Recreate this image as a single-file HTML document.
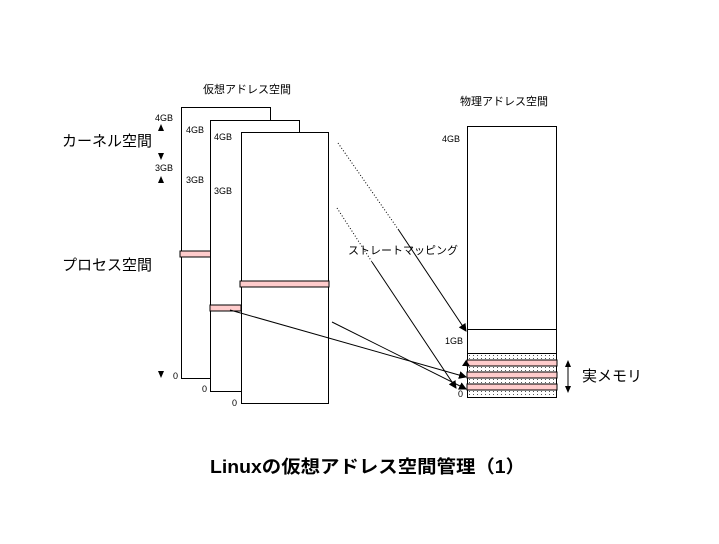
<!DOCTYPE html>
<html><head><meta charset="utf-8"><style>
body{margin:0;background:#fff;}
svg text{font-family:"Liberation Sans","Noto Sans CJK JP",sans-serif;fill:#000;}
</style></head><body>
<svg width="719" height="539" viewBox="0 0 719 539" xmlns="http://www.w3.org/2000/svg">
<defs>
<pattern id="dots" width="4" height="3" patternUnits="userSpaceOnUse">
<rect width="4" height="3" fill="#fff"/><rect x="1" y="1" width="1" height="1" fill="#555"/></pattern>
<marker id="ar" markerWidth="8" markerHeight="8" refX="7" refY="4" orient="auto" markerUnits="userSpaceOnUse">
<path d="M0,0 L8,4 L0,8 z" fill="#000"/></marker>
</defs>
<text x="203" y="93" font-size="11">仮想アドレス空間</text>
<text x="460" y="105" font-size="11">物理アドレス空間</text>
<rect x="181.5" y="107.5" width="89" height="271" fill="#fff" stroke="#000"/>
<rect x="180" y="251" width="31" height="6" fill="#fcc" stroke="#000"/>
<rect x="210.5" y="120.5" width="89" height="271" fill="#fff" stroke="#000"/>
<rect x="210" y="305" width="31" height="6" fill="#fcc" stroke="#000"/>
<rect x="241.5" y="132.5" width="87" height="271" fill="#fff" stroke="#000"/>
<rect x="240" y="281" width="89" height="6" fill="#fcc" stroke="#000"/>
<text x="155" y="121" font-size="9">4GB</text>
<text x="155" y="171" font-size="9">3GB</text>
<text x="186" y="133" font-size="9">4GB</text>
<text x="186" y="183" font-size="9">3GB</text>
<text x="214" y="140" font-size="9">4GB</text>
<text x="214" y="194" font-size="9">3GB</text>
<text x="173" y="379" font-size="9">0</text>
<text x="202" y="392" font-size="9">0</text>
<text x="232" y="406" font-size="9">0</text>
<path d="M158,131 L161,124 L164,131z M158,153 L161,160 L164,153z M158,183 L161,176 L164,183z M158,371 L161,378 L164,371z" fill="#000"/>
<text x="62" y="146" font-size="15">カーネル空間</text>
<text x="62" y="270" font-size="15">プロセス空間</text>
<rect x="467.5" y="126.5" width="89" height="271" fill="#fff" stroke="#000"/>
<line x1="467" y1="329.5" x2="557" y2="329.5" stroke="#000"/>
<rect x="467.5" y="353.5" width="89" height="44" fill="url(#dots)" stroke="#000"/>
<rect x="467" y="360" width="90" height="6" fill="#fcc" stroke="#000"/>
<rect x="467" y="372" width="90" height="6" fill="#fcc" stroke="#000"/>
<rect x="467" y="384" width="90" height="6" fill="#fcc" stroke="#000"/>
<text x="442" y="142" font-size="9">4GB</text>
<text x="445" y="344" font-size="9">1GB</text>
<text x="458" y="397" font-size="9">0</text>
<text x="348" y="254" font-size="11">ストレートマッピング</text>
<line x1="338" y1="143" x2="398" y2="229" stroke="#000" stroke-dasharray="1,2"/>
<line x1="398" y1="229" x2="466" y2="331" stroke="#000" marker-end="url(#ar)"/>
<line x1="337" y1="208" x2="372" y2="262" stroke="#000" stroke-dasharray="1,2"/>
<line x1="372" y1="262" x2="456" y2="388" stroke="#000" marker-end="url(#ar)"/>
<line x1="332" y1="322" x2="466" y2="389" stroke="#000" marker-end="url(#ar)"/>
<line x1="230" y1="310" x2="466" y2="377" stroke="#000" marker-end="url(#ar)"/>
<path d="M462,366 L466,360 L470,366z" fill="#000"/>
<line x1="568" y1="362" x2="568" y2="391" stroke="#000"/>
<path d="M565,367 L568,360 L571,367z M565,386 L568,393 L571,386z" fill="#000"/>
<text x="582" y="381" font-size="15">実メモリ</text>
<text x="210" y="473" font-size="18" font-weight="bold" textLength="315" lengthAdjust="spacingAndGlyphs">Linuxの仮想アドレス空間管理（1）</text>
</svg>
</body></html>
